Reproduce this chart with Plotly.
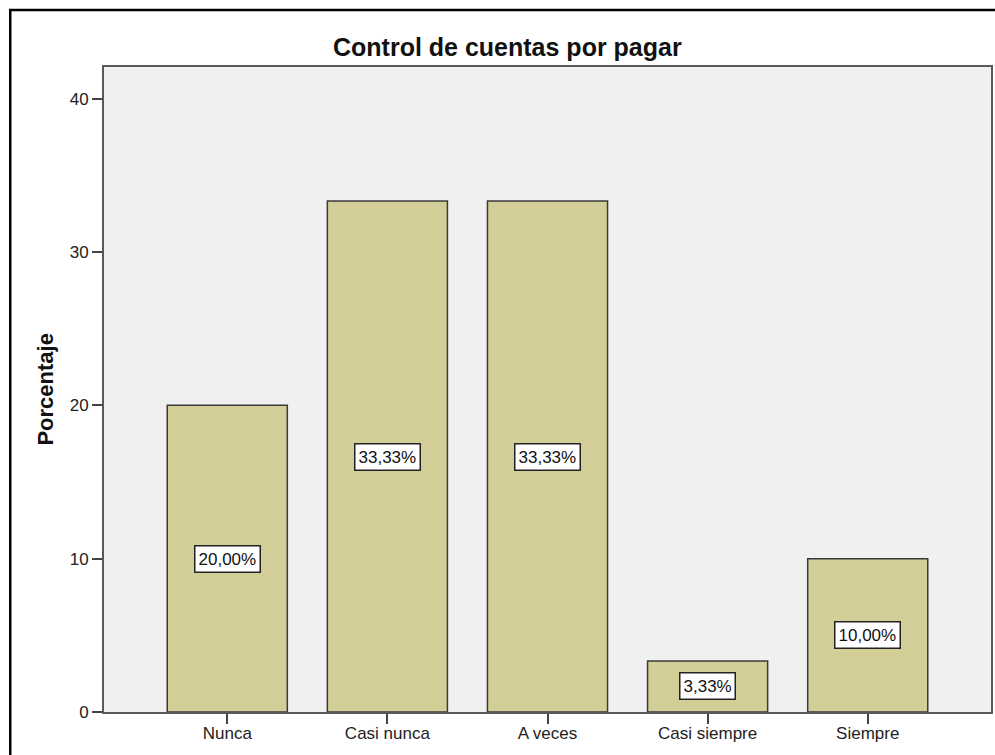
import plotly.graph_objects as go

# Response categories and their share of answers (%)
categories = ["Nunca", "Casi nunca", "A veces", "Casi siempre", "Siempre"]
percentages = [20.00, 33.33, 33.33, 3.33, 10.00]
y_ticks = [0, 10, 20, 30, 40]

title_text = "Control de cuentas por pagar"
y_title = "Porcentaje"

FONT = "Arial, Liberation Sans, sans-serif"
BAR_FILL = "#D3CE97"
PLOT_BG = "#F0F0F0"

fig = go.Figure(
    go.Bar(
        x=categories,
        y=percentages,
        width=0.75,
        marker=dict(color=BAR_FILL, line=dict(color="#3a3a3a", width=1.5)),
        hoverinfo="x+y",
    )
)

# Boxed value labels placed at the middle of each bar
for cat, val in zip(categories, percentages):
    fig.add_annotation(
        x=cat, y=val / 2, xref="x", yref="y",
        text=f"{val:.2f}".replace(".", ",") + "%",
        showarrow=False,
        font=dict(family=FONT, size=17, color="#111"),
        bgcolor="white", bordercolor="#222", borderwidth=1.5, borderpad=3,
    )

# Chart title
fig.add_annotation(
    x=0.4544, y=1.031, xref="paper", yref="paper",
    text=f"<b>{title_text}</b>", showarrow=False,
    xanchor="center", yanchor="middle",
    font=dict(family=FONT, size=25, color="#111"),
)

# Vertical axis title
fig.add_annotation(
    x=-0.0664, y=0.5, xref="paper", yref="paper",
    text=f"<b>{y_title}</b>", showarrow=False, textangle=-90,
    xanchor="center", yanchor="middle",
    font=dict(family=FONT, size=22, color="#111"),
)

# Outer frame around the whole chart
fig.add_shape(
    type="rect", xref="paper", yref="paper",
    x0=-0.1057, x1=1.2, y0=-0.3, y1=1.0884,
    line=dict(color="black", width=2.5), fillcolor="rgba(0,0,0,0)",
    layer="above",
)

fig.update_layout(
    width=995, height=755,
    margin=dict(l=104, r=2, t=67, b=43),
    paper_bgcolor="white",
    plot_bgcolor=PLOT_BG,
    showlegend=False,
    font=dict(family=FONT, size=17, color="#222"),
    xaxis=dict(
        type="category",
        range=[-0.77, 4.77],
        showgrid=False, zeroline=False,
        showline=True, mirror=True, linecolor="#5a5a5a", linewidth=2,
        ticks="outside", ticklen=10, tickwidth=1.5, tickcolor="#444",
        ticklabelstandoff=-5,
        tickfont=dict(family=FONT, size=17, color="#222"),
        fixedrange=True,
    ),
    yaxis=dict(
        range=[0, 42.07],
        tickvals=y_ticks,
        ticktext=[str(t) for t in y_ticks],
        showgrid=False, zeroline=False,
        showline=True, mirror=True, linecolor="#5a5a5a", linewidth=2,
        ticks="outside", ticklen=10, tickwidth=1.5, tickcolor="#444",
        tickfont=dict(family=FONT, size=17, color="#222"),
        fixedrange=True,
    ),
)

fig.write_html("out.html")
